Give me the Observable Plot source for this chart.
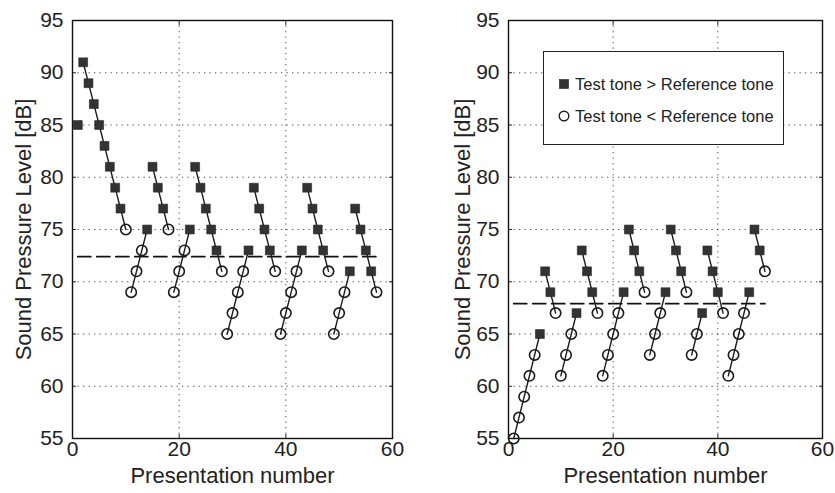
<!DOCTYPE html>
<html>
<head>
<meta charset="utf-8">
<script src="https://cdn.jsdelivr.net/npm/d3@7"></script>
<script src="https://cdn.jsdelivr.net/npm/@observablehq/plot@0.6"></script>
<style>
  html, body { margin: 0; padding: 0; background: #fff; }
  #wrap { position: relative; width: 835px; height: 493px; overflow: hidden;
          font-family: "Liberation Sans", Arial, Helvetica, sans-serif; color: #222; }
  .panel { position: absolute; top: 0; }
  #left { left: 0; }
  #right { left: 420px; }
  #legend { position: absolute; left: 543px; top: 51px; width: 239px; height: 92px;
            border: 1.4px solid #222; background: #fff; font-size: 16.5px; }
  .row { position: absolute; left: 0; height: 20px; }
  .row svg { position: absolute; left: 14px; top: 4px; }
  .row span { position: absolute; left: 31px; white-space: nowrap; line-height: 20px; top: 0; }
</style>
</head>
<body>
<div id="wrap">
  <div id="left" class="panel"></div>
  <div id="right" class="panel"></div>
  <div id="legend"></div>
</div>
<script>
// ---- data ----
// 'S' = Test tone > Reference tone (filled square), 'O' = Test tone < Reference tone (open circle)
const leftLevel = [85,
  91, 89, 87, 85, 83, 81, 79, 77, 75,
  69, 71, 73, 75,
  81, 79, 77, 75,
  69, 71, 73, 75,
  81, 79, 77, 75, 73, 71,
  65, 67, 69, 71, 73,
  79, 77, 75, 73, 71,
  65, 67, 69, 71, 73,
  79, 77, 75, 73, 71,
  65, 67, 69, 71,
  77, 75, 73, 71, 69];
const leftResponse = ["S",
  "S","S","S","S","S","S","S","S","O",
  "O","O","O","S",
  "S","S","S","O",
  "O","O","O","S",
  "S","S","S","S","S","O",
  "O","O","O","O","S",
  "S","S","S","S","O",
  "O","O","O","O","S",
  "S","S","S","S","O",
  "O","O","O","S",
  "S","S","S","S","O"];
const leftRunLengths = [1, 9, 4, 4, 4, 6, 5, 5, 5, 5, 4, 5];
const leftThreshold = 72.4;

const rightLevel = [55, 57, 59, 61, 63, 65,
  71, 69, 67,
  61, 63, 65, 67,
  73, 71, 69, 67,
  61, 63, 65, 67, 69,
  75, 73, 71, 69,
  63, 65, 67, 69,
  75, 73, 71, 69,
  63, 65, 67,
  73, 71, 69, 67,
  61, 63, 65, 67, 69,
  75, 73, 71];
const rightResponse = ["O","O","O","O","O","S",
  "S","S","O",
  "O","O","O","S",
  "S","S","S","O",
  "O","O","O","O","S",
  "S","S","S","O",
  "O","O","O","S",
  "S","S","S","O",
  "O","O","S",
  "S","S","S","O",
  "O","O","O","O","S",
  "S","S","O"];
const rightRunLengths = [6, 3, 4, 4, 5, 4, 4, 4, 3, 4, 5, 3];
const rightThreshold = 67.9;

const xTicks = [0, 20, 40, 60];
const yTicks = [55, 60, 65, 70, 75, 80, 85, 90, 95];
const xGrid = [20, 40];
const yGrid = [60, 65, 70, 75, 80, 85, 90];
const xLabel = "Presentation number";
const yLabel = "Sound Pressure Level [dB]";
const legendLabels = ["Test tone > Reference tone", "Test tone < Reference tone"];

const FONT = '"Liberation Sans", Arial, Helvetica, sans-serif';

function buildRows(levels, responses, runLengths) {
  const rows = [];
  let k = 0;
  runLengths.forEach((len, r) => {
    for (let j = 0; j < len; j++) {
      rows.push({n: k + 1, level: levels[k], response: responses[k], run: r});
      k++;
    }
  });
  return rows;
}

function panel(levels, responses, runLengths, threshold, m) {
  const rows = buildRows(levels, responses, runLengths);
  const thr = [
    {n: rows[0].n, level: threshold},
    {n: rows[rows.length - 1].n, level: threshold}
  ];
  const gridStyle = {stroke: "#333", strokeOpacity: 0.85, strokeWidth: 1, strokeDasharray: "1.3,4.2"};
  return Plot.plot({
    width: m.width,
    height: 493,
    marginLeft: m.left,
    marginRight: m.right,
    marginTop: 20,
    marginBottom: 55,
    x: {domain: [0, 60]},
    y: {domain: [55, 95]},
    style: {fontFamily: FONT, fontSize: "21px", color: "#222", background: "transparent", overflow: "visible"},
    marks: [
      Plot.gridY(yGrid, gridStyle),
      Plot.gridX(xGrid, gridStyle),
      Plot.axisX(xTicks, {anchor: "bottom", tickSize: -4, tickPadding: 7, label: null, fontSize: 21}),
      Plot.axisX(xTicks, {anchor: "top", tickSize: -4, tickFormat: () => "", label: null}),
      Plot.axisY(yTicks, {anchor: "left", tickSize: -4, tickPadding: 13, label: null, fontSize: 21}),
      Plot.axisY(yTicks, {anchor: "right", tickSize: -4, tickFormat: () => "", label: null}),
      Plot.frame({stroke: "#111", strokeWidth: 1.4}),
      Plot.line(thr, {x: "n", y: "level", stroke: "#111", strokeWidth: 1.8, strokeDasharray: "13,6"}),
      Plot.line(rows, {x: "n", y: "level", z: "run", stroke: "#1a1a1a", strokeWidth: 1.4}),
      Plot.dot(rows.filter(d => d.response === "O"), {x: "n", y: "level", r: 5.2, stroke: "#1a1a1a", strokeWidth: 1.6, fill: "none"}),
      Plot.dot(rows.filter(d => d.response === "S"), {x: "n", y: "level", symbol: "square", r: 5, fill: "#333", stroke: "#222", strokeWidth: 0.6}),
      Plot.text([yLabel], {frameAnchor: "left", dx: m.ylabelDx, rotate: -90, textAnchor: "middle", lineAnchor: "middle", fontSize: 22, fill: "#222", text: d => d}),
      Plot.text([xLabel], {frameAnchor: "bottom", dy: 37, textAnchor: "middle", lineAnchor: "middle", fontSize: 22, fill: "#222", text: d => d})
    ]
  });
}

document.getElementById("left").appendChild(
  panel(leftLevel, leftResponse, leftRunLengths, leftThreshold, {width: 420, left: 72, right: 28, ylabelDx: -49})
);
document.getElementById("right").appendChild(
  panel(rightLevel, rightResponse, rightRunLengths, rightThreshold, {width: 415, left: 88, right: 13, ylabelDx: -46})
);

// legend (inside the right panel)
const legend = document.getElementById("legend");
legendLabels.forEach((label, i) => {
  const row = document.createElement("div");
  row.className = "row";
  row.style.top = (i === 0 ? 22 : 54) + "px";
  row.style.width = "239px";
  const sym = i === 0
    ? '<svg width="12" height="12"><rect x="1.5" y="1.5" width="9" height="9" fill="#333" stroke="#222" stroke-width="0.6"/></svg>'
    : '<svg width="12" height="12"><circle cx="6" cy="6" r="4.8" fill="none" stroke="#222" stroke-width="1.4"/></svg>';
  row.innerHTML = sym + '<span>' + label + '</span>';
  legend.appendChild(row);
});
</script>
</body>
</html>
